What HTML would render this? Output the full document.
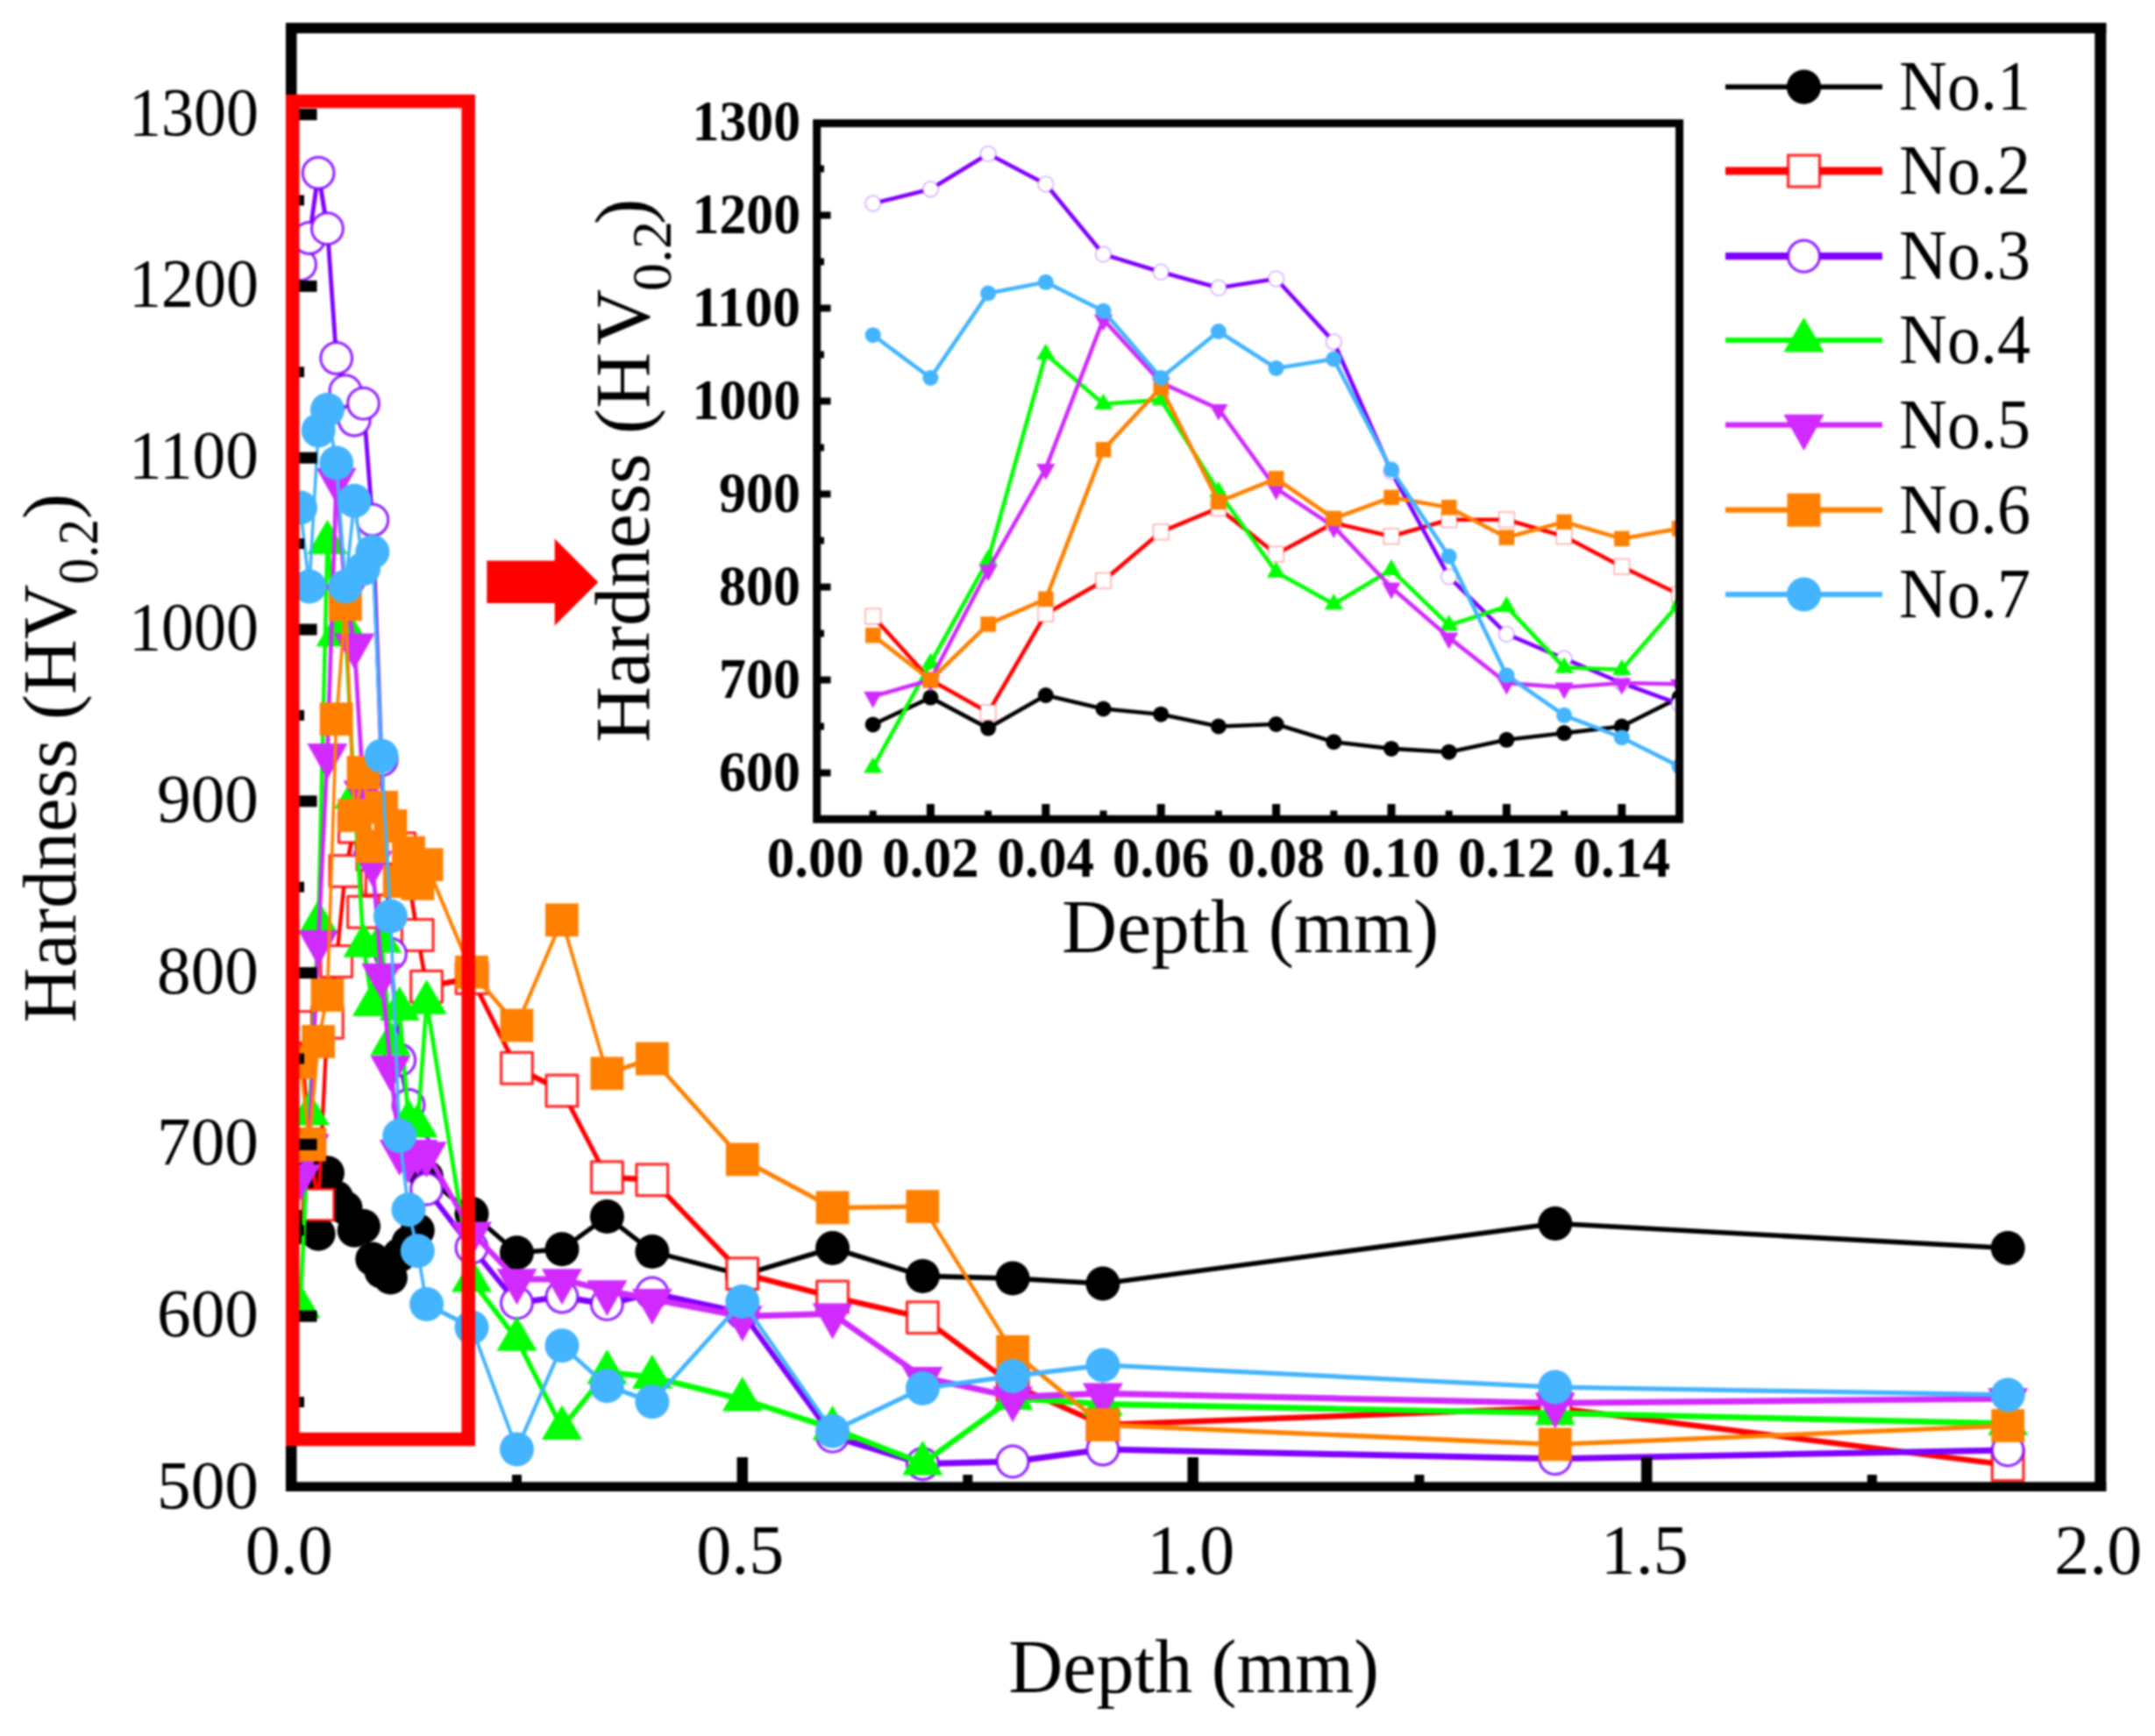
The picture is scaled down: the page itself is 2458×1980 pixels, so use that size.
<!DOCTYPE html>
<html lang="en"><head><meta charset="utf-8"><title>Hardness vs. depth</title>
<style>html,body{margin:0;padding:0;background:#fff}svg{display:block;filter:blur(0.9px)}text{font-family:"Liberation Serif","Times New Roman",Times,serif;fill:#000}.b{font-weight:bold}</style></head><body>
<svg width="2458" height="1980" viewBox="0 0 2458 1980">
<rect width="2458" height="1980" fill="#fff"/>
<defs><clipPath id="cm"><rect x="332.2" y="32" width="2063.5" height="1667.8"/></clipPath><clipPath id="ci"><rect x="931.7" y="140.6" width="983.9" height="793.7"/></clipPath></defs>
<g clip-path="url(#cm)" stroke-linejoin="round">
<g stroke="#000000" stroke-linecap="round">
<line x1="342.5" y1="1399.4" x2="352.8" y2="1342.6" stroke-width="4"/>
<line x1="352.8" y1="1342.6" x2="363.1" y2="1407.2" stroke-width="4"/>
<line x1="363.1" y1="1407.2" x2="373.4" y2="1337.7" stroke-width="4"/>
<line x1="373.4" y1="1337.7" x2="383.7" y2="1366.1" stroke-width="4.3"/>
<line x1="383.7" y1="1366.1" x2="394" y2="1377.8" stroke-width="5"/>
<line x1="394" y1="1377.8" x2="404.2" y2="1403.3" stroke-width="4.4"/>
<line x1="404.2" y1="1403.3" x2="414.5" y2="1398.6" stroke-width="5.4"/>
<line x1="414.5" y1="1398.6" x2="424.8" y2="1436" stroke-width="4.2"/>
<line x1="424.8" y1="1436" x2="435.1" y2="1450.3" stroke-width="4.8"/>
<line x1="435.1" y1="1450.3" x2="445.4" y2="1457.1" stroke-width="5.3"/>
<line x1="445.4" y1="1457.1" x2="455.7" y2="1431.5" stroke-width="4.4"/>
<line x1="455.7" y1="1431.5" x2="466" y2="1417.4" stroke-width="4.8"/>
<line x1="466" y1="1417.4" x2="476.3" y2="1403.3" stroke-width="4.8"/>
<line x1="476.3" y1="1403.3" x2="486.6" y2="1342.6" stroke-width="4"/>
<line x1="486.6" y1="1342.6" x2="538" y2="1384.3" stroke-width="5.2"/>
<line x1="538" y1="1384.3" x2="589.5" y2="1428.8" stroke-width="5.1"/>
<line x1="589.5" y1="1428.8" x2="641" y2="1424.8" stroke-width="5.6"/>
<line x1="641" y1="1424.8" x2="692.4" y2="1387.6" stroke-width="5.2"/>
<line x1="692.4" y1="1387.6" x2="743.9" y2="1427.6" stroke-width="5.2"/>
<line x1="743.9" y1="1427.6" x2="846.8" y2="1454.2" stroke-width="5.5"/>
<line x1="846.8" y1="1454.2" x2="949.6" y2="1423.5" stroke-width="5.5"/>
<line x1="949.6" y1="1423.5" x2="1052.4" y2="1455.4" stroke-width="5.5"/>
<line x1="1052.4" y1="1455.4" x2="1155.1" y2="1458.1" stroke-width="5.6"/>
<line x1="1155.1" y1="1458.1" x2="1257.9" y2="1464" stroke-width="5.6"/>
<line x1="1257.9" y1="1464" x2="1773.8" y2="1395.5" stroke-width="5.6"/>
<line x1="1773.8" y1="1395.5" x2="2290.2" y2="1423.5" stroke-width="5.6"/>
</g>
<circle cx="342.5" cy="1399.4" r="19.5" fill="#000000"/>
<circle cx="352.8" cy="1342.6" r="19.5" fill="#000000"/>
<circle cx="363.1" cy="1407.2" r="19.5" fill="#000000"/>
<circle cx="373.4" cy="1337.7" r="19.5" fill="#000000"/>
<circle cx="383.7" cy="1366.1" r="19.5" fill="#000000"/>
<circle cx="394" cy="1377.8" r="19.5" fill="#000000"/>
<circle cx="404.2" cy="1403.3" r="19.5" fill="#000000"/>
<circle cx="414.5" cy="1398.6" r="19.5" fill="#000000"/>
<circle cx="424.8" cy="1436" r="19.5" fill="#000000"/>
<circle cx="435.1" cy="1450.3" r="19.5" fill="#000000"/>
<circle cx="445.4" cy="1457.1" r="19.5" fill="#000000"/>
<circle cx="455.7" cy="1431.5" r="19.5" fill="#000000"/>
<circle cx="466" cy="1417.4" r="19.5" fill="#000000"/>
<circle cx="476.3" cy="1403.3" r="19.5" fill="#000000"/>
<circle cx="486.6" cy="1342.6" r="19.5" fill="#000000"/>
<circle cx="538" cy="1384.3" r="19.5" fill="#000000"/>
<circle cx="589.5" cy="1428.8" r="19.5" fill="#000000"/>
<circle cx="641" cy="1424.8" r="19.5" fill="#000000"/>
<circle cx="692.4" cy="1387.6" r="19.5" fill="#000000"/>
<circle cx="743.9" cy="1427.6" r="19.5" fill="#000000"/>
<circle cx="846.8" cy="1454.2" r="19.5" fill="#000000"/>
<circle cx="949.6" cy="1423.5" r="19.5" fill="#000000"/>
<circle cx="1052.4" cy="1455.4" r="19.5" fill="#000000"/>
<circle cx="1155.1" cy="1458.1" r="19.5" fill="#000000"/>
<circle cx="1257.9" cy="1464" r="19.5" fill="#000000"/>
<circle cx="1773.8" cy="1395.5" r="19.5" fill="#000000"/>
<circle cx="2290.2" cy="1423.5" r="19.5" fill="#000000"/>
<g stroke="#ff0000" stroke-linecap="round">
<line x1="342.5" y1="1171.5" x2="352.8" y2="1305.4" stroke-width="4.4"/>
<line x1="352.8" y1="1305.4" x2="363.1" y2="1373.9" stroke-width="4.5"/>
<line x1="363.1" y1="1373.9" x2="373.4" y2="1166.4" stroke-width="4.3"/>
<line x1="373.4" y1="1166.4" x2="383.7" y2="1096.5" stroke-width="4.5"/>
<line x1="383.7" y1="1096.5" x2="394" y2="993.5" stroke-width="4.4"/>
<line x1="394" y1="993.5" x2="404.2" y2="943.2" stroke-width="4.7"/>
<line x1="404.2" y1="943.2" x2="414.5" y2="1040.3" stroke-width="4.5"/>
<line x1="414.5" y1="1040.3" x2="424.8" y2="974.5" stroke-width="4.6"/>
<line x1="424.8" y1="974.5" x2="435.1" y2="1002.9" stroke-width="5"/>
<line x1="435.1" y1="1002.9" x2="445.4" y2="967.6" stroke-width="4.8"/>
<line x1="445.4" y1="967.6" x2="455.7" y2="967.6" stroke-width="6.4"/>
<line x1="455.7" y1="967.6" x2="466" y2="1002.9" stroke-width="4.8"/>
<line x1="466" y1="1002.9" x2="476.3" y2="1066.5" stroke-width="4.6"/>
<line x1="476.3" y1="1066.5" x2="486.6" y2="1125.3" stroke-width="4.6"/>
<line x1="486.6" y1="1125.3" x2="538" y2="1115.5" stroke-width="6.4"/>
<line x1="538" y1="1115.5" x2="589.5" y2="1218.3" stroke-width="5.2"/>
<line x1="589.5" y1="1218.3" x2="641" y2="1243.9" stroke-width="6.2"/>
<line x1="641" y1="1243.9" x2="692.4" y2="1342.6" stroke-width="5.2"/>
<line x1="692.4" y1="1342.6" x2="743.9" y2="1345.7" stroke-width="6.4"/>
<line x1="743.9" y1="1345.7" x2="846.8" y2="1452.6" stroke-width="5.7"/>
<line x1="846.8" y1="1452.6" x2="949.6" y2="1479.1" stroke-width="6.3"/>
<line x1="949.6" y1="1479.1" x2="1052.4" y2="1502.8" stroke-width="6.3"/>
<line x1="1052.4" y1="1502.8" x2="1155.1" y2="1579.5" stroke-width="6"/>
<line x1="1155.1" y1="1579.5" x2="1257.9" y2="1625.1" stroke-width="6.2"/>
<line x1="1257.9" y1="1625.1" x2="1773.8" y2="1605.8" stroke-width="6.4"/>
<line x1="1773.8" y1="1605.8" x2="2290.2" y2="1670.8" stroke-width="6.4"/>
</g>
<rect x="324.6" y="1153.6" width="35.7" height="35.7" fill="#fff" stroke="#ff0000" stroke-width="3.3" stroke-opacity="0.82"/>
<rect x="334.9" y="1287.6" width="35.7" height="35.7" fill="#fff" stroke="#ff0000" stroke-width="3.3" stroke-opacity="0.82"/>
<rect x="345.2" y="1356.1" width="35.7" height="35.7" fill="#fff" stroke="#ff0000" stroke-width="3.3" stroke-opacity="0.82"/>
<rect x="355.5" y="1148.5" width="35.7" height="35.7" fill="#fff" stroke="#ff0000" stroke-width="3.3" stroke-opacity="0.82"/>
<rect x="365.8" y="1078.6" width="35.7" height="35.7" fill="#fff" stroke="#ff0000" stroke-width="3.3" stroke-opacity="0.82"/>
<rect x="376.1" y="975.6" width="35.7" height="35.7" fill="#fff" stroke="#ff0000" stroke-width="3.3" stroke-opacity="0.82"/>
<rect x="386.4" y="925.3" width="35.7" height="35.7" fill="#fff" stroke="#ff0000" stroke-width="3.3" stroke-opacity="0.82"/>
<rect x="396.7" y="1022.4" width="35.7" height="35.7" fill="#fff" stroke="#ff0000" stroke-width="3.3" stroke-opacity="0.82"/>
<rect x="407" y="956.6" width="35.7" height="35.7" fill="#fff" stroke="#ff0000" stroke-width="3.3" stroke-opacity="0.82"/>
<rect x="417.3" y="985" width="35.7" height="35.7" fill="#fff" stroke="#ff0000" stroke-width="3.3" stroke-opacity="0.82"/>
<rect x="427.6" y="949.8" width="35.7" height="35.7" fill="#fff" stroke="#ff0000" stroke-width="3.3" stroke-opacity="0.82"/>
<rect x="437.9" y="949.8" width="35.7" height="35.7" fill="#fff" stroke="#ff0000" stroke-width="3.3" stroke-opacity="0.82"/>
<rect x="448.1" y="985" width="35.7" height="35.7" fill="#fff" stroke="#ff0000" stroke-width="3.3" stroke-opacity="0.82"/>
<rect x="458.4" y="1048.7" width="35.7" height="35.7" fill="#fff" stroke="#ff0000" stroke-width="3.3" stroke-opacity="0.82"/>
<rect x="468.7" y="1107.4" width="35.7" height="35.7" fill="#fff" stroke="#ff0000" stroke-width="3.3" stroke-opacity="0.82"/>
<rect x="520.2" y="1097.6" width="35.7" height="35.7" fill="#fff" stroke="#ff0000" stroke-width="3.3" stroke-opacity="0.82"/>
<rect x="571.6" y="1200.4" width="35.7" height="35.7" fill="#fff" stroke="#ff0000" stroke-width="3.3" stroke-opacity="0.82"/>
<rect x="623.1" y="1226.1" width="35.7" height="35.7" fill="#fff" stroke="#ff0000" stroke-width="3.3" stroke-opacity="0.82"/>
<rect x="674.6" y="1324.8" width="35.7" height="35.7" fill="#fff" stroke="#ff0000" stroke-width="3.3" stroke-opacity="0.82"/>
<rect x="726" y="1327.9" width="35.7" height="35.7" fill="#fff" stroke="#ff0000" stroke-width="3.3" stroke-opacity="0.82"/>
<rect x="828.9" y="1434.8" width="35.7" height="35.7" fill="#fff" stroke="#ff0000" stroke-width="3.3" stroke-opacity="0.82"/>
<rect x="931.7" y="1461.2" width="35.7" height="35.7" fill="#fff" stroke="#ff0000" stroke-width="3.3" stroke-opacity="0.82"/>
<rect x="1034.5" y="1484.9" width="35.7" height="35.7" fill="#fff" stroke="#ff0000" stroke-width="3.3" stroke-opacity="0.82"/>
<rect x="1137.3" y="1561.7" width="35.7" height="35.7" fill="#fff" stroke="#ff0000" stroke-width="3.3" stroke-opacity="0.82"/>
<rect x="1240.1" y="1607.3" width="35.7" height="35.7" fill="#fff" stroke="#ff0000" stroke-width="3.3" stroke-opacity="0.82"/>
<rect x="1756" y="1587.9" width="35.7" height="35.7" fill="#fff" stroke="#ff0000" stroke-width="3.3" stroke-opacity="0.82"/>
<rect x="2272.3" y="1652.9" width="35.7" height="35.7" fill="#fff" stroke="#ff0000" stroke-width="3.3" stroke-opacity="0.82"/>
<g stroke="#8000ff" stroke-linecap="round">
<line x1="342.5" y1="301.7" x2="352.8" y2="271.6" stroke-width="5.4"/>
<line x1="352.8" y1="271.6" x2="363.1" y2="197.2" stroke-width="4.9"/>
<line x1="363.1" y1="197.2" x2="373.4" y2="260.8" stroke-width="5"/>
<line x1="373.4" y1="260.8" x2="383.7" y2="408.6" stroke-width="4.8"/>
<line x1="383.7" y1="408.6" x2="394" y2="445.8" stroke-width="5.3"/>
<line x1="394" y1="445.8" x2="404.2" y2="479.1" stroke-width="5.3"/>
<line x1="404.2" y1="479.1" x2="414.5" y2="460.3" stroke-width="5.8"/>
<line x1="414.5" y1="460.3" x2="424.8" y2="593.1" stroke-width="4.8"/>
<line x1="424.8" y1="593.1" x2="435.1" y2="866.8" stroke-width="4.7"/>
<line x1="435.1" y1="866.8" x2="445.4" y2="1088.1" stroke-width="4.7"/>
<line x1="445.4" y1="1088.1" x2="455.7" y2="1208.9" stroke-width="4.8"/>
<line x1="455.7" y1="1208.9" x2="466" y2="1260.4" stroke-width="5.1"/>
<line x1="466" y1="1260.4" x2="476.3" y2="1311.9" stroke-width="5.1"/>
<line x1="476.3" y1="1311.9" x2="486.6" y2="1356.3" stroke-width="5.2"/>
<line x1="486.6" y1="1356.3" x2="538" y2="1422.9" stroke-width="6.1"/>
<line x1="538" y1="1422.9" x2="589.5" y2="1485.9" stroke-width="6.1"/>
<line x1="589.5" y1="1485.9" x2="641" y2="1479.1" stroke-width="7"/>
<line x1="641" y1="1479.1" x2="692.4" y2="1487.5" stroke-width="7"/>
<line x1="692.4" y1="1487.5" x2="743.9" y2="1475" stroke-width="6.9"/>
<line x1="743.9" y1="1475" x2="846.8" y2="1497.3" stroke-width="6.9"/>
<line x1="846.8" y1="1497.3" x2="949.6" y2="1638.3" stroke-width="6"/>
<line x1="949.6" y1="1638.3" x2="1052.4" y2="1669.6" stroke-width="6.9"/>
<line x1="1052.4" y1="1669.6" x2="1155.1" y2="1667" stroke-width="7"/>
<line x1="1155.1" y1="1667" x2="1257.9" y2="1653.1" stroke-width="7"/>
<line x1="1257.9" y1="1653.1" x2="1773.8" y2="1663.7" stroke-width="7"/>
<line x1="1773.8" y1="1663.7" x2="2290.2" y2="1653.9" stroke-width="7"/>
</g>
<circle cx="342.5" cy="301.7" r="17.9" fill="#fff" stroke="#8000ff" stroke-width="3.3" stroke-opacity="0.82"/>
<circle cx="352.8" cy="271.6" r="17.9" fill="#fff" stroke="#8000ff" stroke-width="3.3" stroke-opacity="0.82"/>
<circle cx="363.1" cy="197.2" r="17.9" fill="#fff" stroke="#8000ff" stroke-width="3.3" stroke-opacity="0.82"/>
<circle cx="373.4" cy="260.8" r="17.9" fill="#fff" stroke="#8000ff" stroke-width="3.3" stroke-opacity="0.82"/>
<circle cx="383.7" cy="408.6" r="17.9" fill="#fff" stroke="#8000ff" stroke-width="3.3" stroke-opacity="0.82"/>
<circle cx="394" cy="445.8" r="17.9" fill="#fff" stroke="#8000ff" stroke-width="3.3" stroke-opacity="0.82"/>
<circle cx="404.2" cy="479.1" r="17.9" fill="#fff" stroke="#8000ff" stroke-width="3.3" stroke-opacity="0.82"/>
<circle cx="414.5" cy="460.3" r="17.9" fill="#fff" stroke="#8000ff" stroke-width="3.3" stroke-opacity="0.82"/>
<circle cx="424.8" cy="593.1" r="17.9" fill="#fff" stroke="#8000ff" stroke-width="3.3" stroke-opacity="0.82"/>
<circle cx="435.1" cy="866.8" r="17.9" fill="#fff" stroke="#8000ff" stroke-width="3.3" stroke-opacity="0.82"/>
<circle cx="445.4" cy="1088.1" r="17.9" fill="#fff" stroke="#8000ff" stroke-width="3.3" stroke-opacity="0.82"/>
<circle cx="455.7" cy="1208.9" r="17.9" fill="#fff" stroke="#8000ff" stroke-width="3.3" stroke-opacity="0.82"/>
<circle cx="466" cy="1260.4" r="17.9" fill="#fff" stroke="#8000ff" stroke-width="3.3" stroke-opacity="0.82"/>
<circle cx="476.3" cy="1311.9" r="17.9" fill="#fff" stroke="#8000ff" stroke-width="3.3" stroke-opacity="0.82"/>
<circle cx="486.6" cy="1356.3" r="17.9" fill="#fff" stroke="#8000ff" stroke-width="3.3" stroke-opacity="0.82"/>
<circle cx="538" cy="1422.9" r="17.9" fill="#fff" stroke="#8000ff" stroke-width="3.3" stroke-opacity="0.82"/>
<circle cx="589.5" cy="1485.9" r="17.9" fill="#fff" stroke="#8000ff" stroke-width="3.3" stroke-opacity="0.82"/>
<circle cx="641" cy="1479.1" r="17.9" fill="#fff" stroke="#8000ff" stroke-width="3.3" stroke-opacity="0.82"/>
<circle cx="692.4" cy="1487.5" r="17.9" fill="#fff" stroke="#8000ff" stroke-width="3.3" stroke-opacity="0.82"/>
<circle cx="743.9" cy="1475" r="17.9" fill="#fff" stroke="#8000ff" stroke-width="3.3" stroke-opacity="0.82"/>
<circle cx="846.8" cy="1497.3" r="17.9" fill="#fff" stroke="#8000ff" stroke-width="3.3" stroke-opacity="0.82"/>
<circle cx="949.6" cy="1638.3" r="17.9" fill="#fff" stroke="#8000ff" stroke-width="3.3" stroke-opacity="0.82"/>
<circle cx="1052.4" cy="1669.6" r="17.9" fill="#fff" stroke="#8000ff" stroke-width="3.3" stroke-opacity="0.82"/>
<circle cx="1155.1" cy="1667" r="17.9" fill="#fff" stroke="#8000ff" stroke-width="3.3" stroke-opacity="0.82"/>
<circle cx="1257.9" cy="1653.1" r="17.9" fill="#fff" stroke="#8000ff" stroke-width="3.3" stroke-opacity="0.82"/>
<circle cx="1773.8" cy="1663.7" r="17.9" fill="#fff" stroke="#8000ff" stroke-width="3.3" stroke-opacity="0.82"/>
<circle cx="2290.2" cy="1653.9" r="17.9" fill="#fff" stroke="#8000ff" stroke-width="3.3" stroke-opacity="0.82"/>
<g stroke="#00ff00" stroke-linecap="round">
<line x1="342.5" y1="1490" x2="352.8" y2="1270.2" stroke-width="4.5"/>
<line x1="352.8" y1="1270.2" x2="363.1" y2="1052" stroke-width="4.5"/>
<line x1="363.1" y1="1052" x2="373.4" y2="618.7" stroke-width="4.4"/>
<line x1="373.4" y1="618.7" x2="383.7" y2="723.9" stroke-width="4.6"/>
<line x1="383.7" y1="723.9" x2="394" y2="715.3" stroke-width="6.1"/>
<line x1="394" y1="715.3" x2="404.2" y2="909.1" stroke-width="4.5"/>
<line x1="404.2" y1="909.1" x2="414.5" y2="1078.3" stroke-width="4.5"/>
<line x1="414.5" y1="1078.3" x2="424.8" y2="1145.6" stroke-width="4.7"/>
<line x1="424.8" y1="1145.6" x2="435.1" y2="1073" stroke-width="4.7"/>
<line x1="435.1" y1="1073" x2="445.4" y2="1190.1" stroke-width="4.6"/>
<line x1="445.4" y1="1190.1" x2="455.7" y2="1150.7" stroke-width="4.9"/>
<line x1="455.7" y1="1150.7" x2="466" y2="1279.2" stroke-width="4.5"/>
<line x1="466" y1="1279.2" x2="476.3" y2="1283.9" stroke-width="6.4"/>
<line x1="476.3" y1="1283.9" x2="486.6" y2="1143.3" stroke-width="4.5"/>
<line x1="486.6" y1="1143.3" x2="538" y2="1460.1" stroke-width="4.7"/>
<line x1="538" y1="1460.1" x2="589.5" y2="1527.4" stroke-width="5.7"/>
<line x1="589.5" y1="1527.4" x2="641" y2="1628.5" stroke-width="5.4"/>
<line x1="641" y1="1628.5" x2="692.4" y2="1565" stroke-width="5.8"/>
<line x1="692.4" y1="1565" x2="743.9" y2="1570.7" stroke-width="6.6"/>
<line x1="743.9" y1="1570.7" x2="846.8" y2="1596" stroke-width="6.5"/>
<line x1="846.8" y1="1596" x2="949.6" y2="1629.1" stroke-width="6.5"/>
<line x1="949.6" y1="1629.1" x2="1052.4" y2="1669" stroke-width="6.4"/>
<line x1="1052.4" y1="1669" x2="1155.1" y2="1594.6" stroke-width="6.2"/>
<line x1="1155.1" y1="1594.6" x2="1257.9" y2="1601.4" stroke-width="6.6"/>
<line x1="1257.9" y1="1601.4" x2="1773.8" y2="1611.8" stroke-width="6.6"/>
<line x1="1773.8" y1="1611.8" x2="2290.2" y2="1623.6" stroke-width="6.6"/>
</g>
<polygon points="342.5,1464 365.5,1503.4 319.5,1503.4" fill="#00ff00"/>
<polygon points="352.8,1244.2 375.8,1283.5 329.8,1283.5" fill="#00ff00"/>
<polygon points="363.1,1026 386.1,1065.4 340.1,1065.4" fill="#00ff00"/>
<polygon points="373.4,592.7 396.4,632.1 350.4,632.1" fill="#00ff00"/>
<polygon points="383.7,697.9 406.7,737.3 360.6,737.3" fill="#00ff00"/>
<polygon points="394,689.3 417,728.7 370.9,728.7" fill="#00ff00"/>
<polygon points="404.2,883.1 427.3,922.5 381.2,922.5" fill="#00ff00"/>
<polygon points="414.5,1052.3 437.5,1091.7 391.5,1091.7" fill="#00ff00"/>
<polygon points="424.8,1119.6 447.8,1159 401.8,1159" fill="#00ff00"/>
<polygon points="435.1,1047 458.1,1086.4 412.1,1086.4" fill="#00ff00"/>
<polygon points="445.4,1164.1 468.4,1203.5 422.4,1203.5" fill="#00ff00"/>
<polygon points="455.7,1124.7 478.7,1164.1 432.7,1164.1" fill="#00ff00"/>
<polygon points="466,1253.2 489,1292.6 443,1292.6" fill="#00ff00"/>
<polygon points="476.3,1257.9 499.3,1297.3 453.3,1297.3" fill="#00ff00"/>
<polygon points="486.6,1117.3 509.6,1156.7 463.6,1156.7" fill="#00ff00"/>
<polygon points="538,1434.1 561,1473.5 515,1473.5" fill="#00ff00"/>
<polygon points="589.5,1501.4 612.5,1540.8 566.5,1540.8" fill="#00ff00"/>
<polygon points="641,1602.5 664,1641.9 617.9,1641.9" fill="#00ff00"/>
<polygon points="692.4,1539 715.4,1578.4 669.4,1578.4" fill="#00ff00"/>
<polygon points="743.9,1544.7 766.9,1584.1 720.9,1584.1" fill="#00ff00"/>
<polygon points="846.8,1570 869.8,1609.4 823.8,1609.4" fill="#00ff00"/>
<polygon points="949.6,1603.1 972.6,1642.4 926.6,1642.4" fill="#00ff00"/>
<polygon points="1052.4,1643 1075.4,1682.4 1029.3,1682.4" fill="#00ff00"/>
<polygon points="1155.1,1568.6 1178.2,1608 1132.1,1608" fill="#00ff00"/>
<polygon points="1257.9,1575.5 1280.9,1614.8 1234.9,1614.8" fill="#00ff00"/>
<polygon points="1773.8,1585.8 1796.8,1625.2 1750.8,1625.2" fill="#00ff00"/>
<polygon points="2290.2,1597.6 2313.2,1637 2267.2,1637" fill="#00ff00"/>
<g stroke="#d02aff" stroke-linecap="round">
<line x1="342.5" y1="1340.1" x2="352.8" y2="1305.4" stroke-width="5.3"/>
<line x1="352.8" y1="1305.4" x2="363.1" y2="1073" stroke-width="4.7"/>
<line x1="363.1" y1="1073" x2="373.4" y2="860" stroke-width="4.7"/>
<line x1="373.4" y1="860" x2="383.7" y2="545.7" stroke-width="4.7"/>
<line x1="383.7" y1="545.7" x2="394" y2="678.8" stroke-width="4.8"/>
<line x1="394" y1="678.8" x2="404.2" y2="734.4" stroke-width="5.1"/>
<line x1="404.2" y1="734.4" x2="414.5" y2="902.1" stroke-width="4.8"/>
<line x1="414.5" y1="902.1" x2="424.8" y2="982.3" stroke-width="4.9"/>
<line x1="424.8" y1="982.3" x2="435.1" y2="1110.6" stroke-width="4.8"/>
<line x1="435.1" y1="1110.6" x2="445.4" y2="1215.9" stroke-width="4.9"/>
<line x1="445.4" y1="1215.9" x2="455.7" y2="1311.9" stroke-width="4.9"/>
<line x1="455.7" y1="1311.9" x2="466" y2="1321.1" stroke-width="6.4"/>
<line x1="466" y1="1321.1" x2="476.3" y2="1311.9" stroke-width="6.4"/>
<line x1="476.3" y1="1311.9" x2="486.6" y2="1314.2" stroke-width="6.9"/>
<line x1="486.6" y1="1314.2" x2="538" y2="1405.3" stroke-width="5.8"/>
<line x1="538" y1="1405.3" x2="589.5" y2="1459.1" stroke-width="6.3"/>
<line x1="589.5" y1="1459.1" x2="641" y2="1459.1" stroke-width="7"/>
<line x1="641" y1="1459.1" x2="692.4" y2="1472" stroke-width="6.9"/>
<line x1="692.4" y1="1472" x2="743.9" y2="1481.8" stroke-width="7"/>
<line x1="743.9" y1="1481.8" x2="846.8" y2="1501.2" stroke-width="7"/>
<line x1="846.8" y1="1501.2" x2="949.6" y2="1498.5" stroke-width="7"/>
<line x1="949.6" y1="1498.5" x2="1052.4" y2="1570.9" stroke-width="6.6"/>
<line x1="1052.4" y1="1570.9" x2="1155.1" y2="1593.2" stroke-width="6.9"/>
<line x1="1155.1" y1="1593.2" x2="1257.9" y2="1589.3" stroke-width="7"/>
<line x1="1257.9" y1="1589.3" x2="1773.8" y2="1600.3" stroke-width="7"/>
<line x1="1773.8" y1="1600.3" x2="2290.2" y2="1595.2" stroke-width="7"/>
</g>
<polygon points="342.5,1369.1 365.5,1328.2 319.5,1328.2" fill="#d02aff"/>
<polygon points="352.8,1334.5 375.8,1293.5 329.8,1293.5" fill="#d02aff"/>
<polygon points="363.1,1102.1 386.1,1061.1 340.1,1061.1" fill="#d02aff"/>
<polygon points="373.4,889 396.4,848.1 350.4,848.1" fill="#d02aff"/>
<polygon points="383.7,574.8 406.7,533.8 360.6,533.8" fill="#d02aff"/>
<polygon points="394,707.9 417,667 370.9,667" fill="#d02aff"/>
<polygon points="404.2,763.5 427.3,722.6 381.2,722.6" fill="#d02aff"/>
<polygon points="414.5,931.1 437.5,890.2 391.5,890.2" fill="#d02aff"/>
<polygon points="424.8,1011.4 447.8,970.5 401.8,970.5" fill="#d02aff"/>
<polygon points="435.1,1139.7 458.1,1098.7 412.1,1098.7" fill="#d02aff"/>
<polygon points="445.4,1245 468.4,1204 422.4,1204" fill="#d02aff"/>
<polygon points="455.7,1340.9 478.7,1300 432.7,1300" fill="#d02aff"/>
<polygon points="466,1350.1 489,1309.2 443,1309.2" fill="#d02aff"/>
<polygon points="476.3,1340.9 499.3,1300 453.3,1300" fill="#d02aff"/>
<polygon points="486.6,1343.3 509.6,1302.3 463.6,1302.3" fill="#d02aff"/>
<polygon points="538,1434.3 561,1393.4 515,1393.4" fill="#d02aff"/>
<polygon points="589.5,1488.2 612.5,1447.2 566.5,1447.2" fill="#d02aff"/>
<polygon points="641,1488.2 664,1447.2 617.9,1447.2" fill="#d02aff"/>
<polygon points="692.4,1501.1 715.4,1460.2 669.4,1460.2" fill="#d02aff"/>
<polygon points="743.9,1510.9 766.9,1469.9 720.9,1469.9" fill="#d02aff"/>
<polygon points="846.8,1530.3 869.8,1489.3 823.8,1489.3" fill="#d02aff"/>
<polygon points="949.6,1527.5 972.6,1486.6 926.6,1486.6" fill="#d02aff"/>
<polygon points="1052.4,1600 1075.4,1559 1029.3,1559" fill="#d02aff"/>
<polygon points="1155.1,1622.3 1178.2,1581.4 1132.1,1581.4" fill="#d02aff"/>
<polygon points="1257.9,1618.4 1280.9,1577.4 1234.9,1577.4" fill="#d02aff"/>
<polygon points="1773.8,1629.3 1796.8,1588.4 1750.8,1588.4" fill="#d02aff"/>
<polygon points="2290.2,1624.3 2313.2,1583.3 2267.2,1583.3" fill="#d02aff"/>
<g stroke="#ff8000" stroke-linecap="round">
<line x1="342.5" y1="1211.4" x2="352.8" y2="1305.4" stroke-width="3.7"/>
<line x1="352.8" y1="1305.4" x2="363.1" y2="1187.9" stroke-width="3.7"/>
<line x1="363.1" y1="1187.9" x2="373.4" y2="1135.1" stroke-width="3.8"/>
<line x1="373.4" y1="1135.1" x2="383.7" y2="820.2" stroke-width="3.6"/>
<line x1="383.7" y1="820.2" x2="394" y2="689.4" stroke-width="3.6"/>
<line x1="394" y1="689.4" x2="404.2" y2="930.2" stroke-width="3.6"/>
<line x1="404.2" y1="930.2" x2="414.5" y2="881.1" stroke-width="3.9"/>
<line x1="414.5" y1="881.1" x2="424.8" y2="965.3" stroke-width="3.7"/>
<line x1="424.8" y1="965.3" x2="435.1" y2="920.8" stroke-width="3.9"/>
<line x1="435.1" y1="920.8" x2="445.4" y2="942" stroke-width="4.3"/>
<line x1="445.4" y1="942" x2="455.7" y2="1005.2" stroke-width="3.8"/>
<line x1="455.7" y1="1005.2" x2="466" y2="972.5" stroke-width="4"/>
<line x1="466" y1="972.5" x2="476.3" y2="1007.8" stroke-width="4"/>
<line x1="476.3" y1="1007.8" x2="486.6" y2="986.2" stroke-width="4.3"/>
<line x1="486.6" y1="986.2" x2="538" y2="1108.8" stroke-width="4.2"/>
<line x1="538" y1="1108.8" x2="589.5" y2="1169.5" stroke-width="4.7"/>
<line x1="589.5" y1="1169.5" x2="641" y2="1049.3" stroke-width="4.2"/>
<line x1="641" y1="1049.3" x2="692.4" y2="1224.3" stroke-width="4"/>
<line x1="692.4" y1="1224.3" x2="743.9" y2="1207.5" stroke-width="5.2"/>
<line x1="743.9" y1="1207.5" x2="846.8" y2="1322.4" stroke-width="4.7"/>
<line x1="846.8" y1="1322.4" x2="949.6" y2="1377.5" stroke-width="5.1"/>
<line x1="949.6" y1="1377.5" x2="1052.4" y2="1376.1" stroke-width="5.3"/>
<line x1="1052.4" y1="1376.1" x2="1155.1" y2="1541.7" stroke-width="4.4"/>
<line x1="1155.1" y1="1541.7" x2="1257.9" y2="1625.1" stroke-width="4.9"/>
<line x1="1257.9" y1="1625.1" x2="1773.8" y2="1647.5" stroke-width="5.3"/>
<line x1="1773.8" y1="1647.5" x2="2290.2" y2="1626.1" stroke-width="5.3"/>
</g>
<rect x="323.6" y="1192.5" width="37.8" height="37.8" fill="#ff8000"/>
<rect x="333.9" y="1286.5" width="37.8" height="37.8" fill="#ff8000"/>
<rect x="344.2" y="1169" width="37.8" height="37.8" fill="#ff8000"/>
<rect x="354.5" y="1116.1" width="37.8" height="37.8" fill="#ff8000"/>
<rect x="364.7" y="801.3" width="37.8" height="37.8" fill="#ff8000"/>
<rect x="375" y="670.5" width="37.8" height="37.8" fill="#ff8000"/>
<rect x="385.3" y="911.3" width="37.8" height="37.8" fill="#ff8000"/>
<rect x="395.6" y="862.2" width="37.8" height="37.8" fill="#ff8000"/>
<rect x="405.9" y="946.4" width="37.8" height="37.8" fill="#ff8000"/>
<rect x="416.2" y="901.9" width="37.8" height="37.8" fill="#ff8000"/>
<rect x="426.5" y="923.1" width="37.8" height="37.8" fill="#ff8000"/>
<rect x="436.8" y="986.3" width="37.8" height="37.8" fill="#ff8000"/>
<rect x="447.1" y="953.6" width="37.8" height="37.8" fill="#ff8000"/>
<rect x="457.4" y="988.9" width="37.8" height="37.8" fill="#ff8000"/>
<rect x="467.7" y="967.3" width="37.8" height="37.8" fill="#ff8000"/>
<rect x="519.1" y="1089.9" width="37.8" height="37.8" fill="#ff8000"/>
<rect x="570.6" y="1150.6" width="37.8" height="37.8" fill="#ff8000"/>
<rect x="622" y="1030.4" width="37.8" height="37.8" fill="#ff8000"/>
<rect x="673.5" y="1205.4" width="37.8" height="37.8" fill="#ff8000"/>
<rect x="725" y="1188.6" width="37.8" height="37.8" fill="#ff8000"/>
<rect x="827.9" y="1303.5" width="37.8" height="37.8" fill="#ff8000"/>
<rect x="930.7" y="1358.5" width="37.8" height="37.8" fill="#ff8000"/>
<rect x="1033.4" y="1357.2" width="37.8" height="37.8" fill="#ff8000"/>
<rect x="1136.2" y="1522.8" width="37.8" height="37.8" fill="#ff8000"/>
<rect x="1239" y="1606.2" width="37.8" height="37.8" fill="#ff8000"/>
<rect x="1754.9" y="1628.5" width="37.8" height="37.8" fill="#ff8000"/>
<rect x="2271.3" y="1607.2" width="37.8" height="37.8" fill="#ff8000"/>
<g stroke="#43b4fd" stroke-linecap="round">
<line x1="342.5" y1="579" x2="352.8" y2="669" stroke-width="3.7"/>
<line x1="352.8" y1="669" x2="363.1" y2="490.9" stroke-width="3.6"/>
<line x1="363.1" y1="490.9" x2="373.4" y2="467.4" stroke-width="4.2"/>
<line x1="373.4" y1="467.4" x2="383.7" y2="528.1" stroke-width="3.8"/>
<line x1="383.7" y1="528.1" x2="394" y2="669" stroke-width="3.6"/>
<line x1="394" y1="669" x2="404.2" y2="571.2" stroke-width="3.7"/>
<line x1="404.2" y1="571.2" x2="414.5" y2="648.7" stroke-width="3.7"/>
<line x1="414.5" y1="648.7" x2="424.8" y2="629.5" stroke-width="4.3"/>
<line x1="424.8" y1="629.5" x2="435.1" y2="862.3" stroke-width="3.6"/>
<line x1="435.1" y1="862.3" x2="445.4" y2="1045" stroke-width="3.6"/>
<line x1="445.4" y1="1045" x2="455.7" y2="1295.6" stroke-width="3.6"/>
<line x1="455.7" y1="1295.6" x2="466" y2="1379.8" stroke-width="3.7"/>
<line x1="466" y1="1379.8" x2="476.3" y2="1426.8" stroke-width="3.9"/>
<line x1="476.3" y1="1426.8" x2="486.6" y2="1487.5" stroke-width="3.8"/>
<line x1="486.6" y1="1487.5" x2="538" y2="1513.9" stroke-width="5.1"/>
<line x1="538" y1="1513.9" x2="589.5" y2="1652.9" stroke-width="4.1"/>
<line x1="589.5" y1="1652.9" x2="641" y2="1534.7" stroke-width="4.2"/>
<line x1="641" y1="1534.7" x2="692.4" y2="1580.7" stroke-width="4.8"/>
<line x1="692.4" y1="1580.7" x2="743.9" y2="1598.7" stroke-width="5.2"/>
<line x1="743.9" y1="1598.7" x2="846.8" y2="1484.6" stroke-width="4.7"/>
<line x1="846.8" y1="1484.6" x2="949.6" y2="1632.2" stroke-width="4.5"/>
<line x1="949.6" y1="1632.2" x2="1052.4" y2="1583.4" stroke-width="5.1"/>
<line x1="1052.4" y1="1583.4" x2="1155.1" y2="1569.5" stroke-width="5.3"/>
<line x1="1155.1" y1="1569.5" x2="1257.9" y2="1557" stroke-width="5.3"/>
<line x1="1257.9" y1="1557" x2="1773.8" y2="1582.1" stroke-width="5.3"/>
<line x1="1773.8" y1="1582.1" x2="2290.2" y2="1590.9" stroke-width="5.3"/>
</g>
<circle cx="342.5" cy="579" r="19.5" fill="#43b4fd"/>
<circle cx="352.8" cy="669" r="19.5" fill="#43b4fd"/>
<circle cx="363.1" cy="490.9" r="19.5" fill="#43b4fd"/>
<circle cx="373.4" cy="467.4" r="19.5" fill="#43b4fd"/>
<circle cx="383.7" cy="528.1" r="19.5" fill="#43b4fd"/>
<circle cx="394" cy="669" r="19.5" fill="#43b4fd"/>
<circle cx="404.2" cy="571.2" r="19.5" fill="#43b4fd"/>
<circle cx="414.5" cy="648.7" r="19.5" fill="#43b4fd"/>
<circle cx="424.8" cy="629.5" r="19.5" fill="#43b4fd"/>
<circle cx="435.1" cy="862.3" r="19.5" fill="#43b4fd"/>
<circle cx="445.4" cy="1045" r="19.5" fill="#43b4fd"/>
<circle cx="455.7" cy="1295.6" r="19.5" fill="#43b4fd"/>
<circle cx="466" cy="1379.8" r="19.5" fill="#43b4fd"/>
<circle cx="476.3" cy="1426.8" r="19.5" fill="#43b4fd"/>
<circle cx="486.6" cy="1487.5" r="19.5" fill="#43b4fd"/>
<circle cx="538" cy="1513.9" r="19.5" fill="#43b4fd"/>
<circle cx="589.5" cy="1652.9" r="19.5" fill="#43b4fd"/>
<circle cx="641" cy="1534.7" r="19.5" fill="#43b4fd"/>
<circle cx="692.4" cy="1580.7" r="19.5" fill="#43b4fd"/>
<circle cx="743.9" cy="1598.7" r="19.5" fill="#43b4fd"/>
<circle cx="846.8" cy="1484.6" r="19.5" fill="#43b4fd"/>
<circle cx="949.6" cy="1632.2" r="19.5" fill="#43b4fd"/>
<circle cx="1052.4" cy="1583.4" r="19.5" fill="#43b4fd"/>
<circle cx="1155.1" cy="1569.5" r="19.5" fill="#43b4fd"/>
<circle cx="1257.9" cy="1557" r="19.5" fill="#43b4fd"/>
<circle cx="1773.8" cy="1582.1" r="19.5" fill="#43b4fd"/>
<circle cx="2290.2" cy="1590.9" r="19.5" fill="#43b4fd"/>
</g>
<g stroke="#000" fill="none">
<path d="M326 32H2402.3" stroke-width="12"/><path d="M326 1695.6H2402.3" stroke-width="10.6"/><path d="M332.2 26V1700.9" stroke-width="12.5"/><path d="M2395.8 26V1700.9" stroke-width="13"/>
<line x1="846.8" y1="1695.8" x2="846.8" y2="1662" stroke-width="12.5"/>
<line x1="1360.7" y1="1695.8" x2="1360.7" y2="1662" stroke-width="12.5"/>
<line x1="1878.2" y1="1695.8" x2="1878.2" y2="1662" stroke-width="12.5"/>
<line x1="589.5" y1="1695.8" x2="589.5" y2="1682" stroke-width="11"/>
<line x1="1103.8" y1="1695.8" x2="1103.8" y2="1682" stroke-width="11"/>
<line x1="1618.9" y1="1695.8" x2="1618.9" y2="1682" stroke-width="11"/>
<line x1="2135.3" y1="1695.8" x2="2135.3" y2="1682" stroke-width="11"/>
<line x1="332.2" y1="1501.2" x2="361.5" y2="1501.2" stroke-width="13"/>
<line x1="332.2" y1="1305.4" x2="361.5" y2="1305.4" stroke-width="13"/>
<line x1="332.2" y1="1109.6" x2="361.5" y2="1109.6" stroke-width="13"/>
<line x1="332.2" y1="913.8" x2="361.5" y2="913.8" stroke-width="13"/>
<line x1="332.2" y1="718" x2="361.5" y2="718" stroke-width="13"/>
<line x1="332.2" y1="522.2" x2="361.5" y2="522.2" stroke-width="13"/>
<line x1="332.2" y1="326.4" x2="361.5" y2="326.4" stroke-width="13"/>
<line x1="332.2" y1="130.6" x2="361.5" y2="130.6" stroke-width="13"/>
<line x1="332.2" y1="1599.1" x2="347" y2="1599.1" stroke-width="12"/>
<line x1="332.2" y1="1403.3" x2="347" y2="1403.3" stroke-width="12"/>
<line x1="332.2" y1="1207.5" x2="347" y2="1207.5" stroke-width="12"/>
<line x1="332.2" y1="1011.7" x2="347" y2="1011.7" stroke-width="12"/>
<line x1="332.2" y1="815.9" x2="347" y2="815.9" stroke-width="12"/>
<line x1="332.2" y1="620.1" x2="347" y2="620.1" stroke-width="12"/>
<line x1="332.2" y1="424.3" x2="347" y2="424.3" stroke-width="12"/>
<line x1="332.2" y1="228.5" x2="347" y2="228.5" stroke-width="12"/>
</g>
<g font-size="79" text-anchor="end">
<text x="295" y="1720" textLength="116" lengthAdjust="spacingAndGlyphs">500</text>
<text x="295" y="1524.2" textLength="116" lengthAdjust="spacingAndGlyphs">600</text>
<text x="295" y="1328.4" textLength="116" lengthAdjust="spacingAndGlyphs">700</text>
<text x="295" y="1132.6" textLength="116" lengthAdjust="spacingAndGlyphs">800</text>
<text x="295" y="936.8" textLength="116" lengthAdjust="spacingAndGlyphs">900</text>
<text x="295" y="741" textLength="148" lengthAdjust="spacingAndGlyphs">1000</text>
<text x="295" y="545.2" textLength="148" lengthAdjust="spacingAndGlyphs">1100</text>
<text x="295" y="349.4" textLength="148" lengthAdjust="spacingAndGlyphs">1200</text>
<text x="295" y="153.6" textLength="148" lengthAdjust="spacingAndGlyphs">1300</text>
</g>
<g font-size="80" text-anchor="middle">
<text x="329.7" y="1794.5">0.0</text>
<text x="844.3" y="1794.5">0.5</text>
<text x="1358.2" y="1794.5">1.0</text>
<text x="1875.7" y="1794.5">1.5</text>
<text x="2393.2" y="1794.5">2.0</text>
</g>
<text x="1361.5" y="1930" font-size="86" text-anchor="middle">Depth (mm)</text>
<text transform="translate(86 1166.5) rotate(-90)" font-size="87">Hardness (HV<tspan font-size="66" dy="25" textLength="74.5" lengthAdjust="spacingAndGlyphs">0.2</tspan><tspan dy="-25">)</tspan></text>
<rect x="333.8" y="115.5" width="200.4" height="1526.1" fill="none" stroke="#ff0000" stroke-width="15.5"/>
<polygon points="555.3,639.5 632.7,639.5 632.7,614.6 682.4,663.9 632.7,713.5 632.7,687.9 555.3,687.9" fill="#ff0000"/>
<rect x="931.7" y="140.6" width="983.9" height="793.7" fill="#fff"/>
<g clip-path="url(#ci)" stroke-linejoin="round">
<polyline points="995.7,826.4 1061.4,795.6 1127.1,830.6 1192.8,793 1258.5,808.4 1324.2,814.7 1389.9,828.5 1455.6,826 1521.3,846.2 1587,853.9 1652.7,857.7 1718.4,843.8 1784.1,836.1 1849.8,828.5 1915.5,795.6" fill="none" stroke="#000000" stroke-width="4.6"/>
<circle cx="995.7" cy="826.4" r="9" fill="#000000"/>
<circle cx="1061.4" cy="795.6" r="9" fill="#000000"/>
<circle cx="1127.1" cy="830.6" r="9" fill="#000000"/>
<circle cx="1192.8" cy="793" r="9" fill="#000000"/>
<circle cx="1258.5" cy="808.4" r="9" fill="#000000"/>
<circle cx="1324.2" cy="814.7" r="9" fill="#000000"/>
<circle cx="1389.9" cy="828.5" r="9" fill="#000000"/>
<circle cx="1455.6" cy="826" r="9" fill="#000000"/>
<circle cx="1521.3" cy="846.2" r="9" fill="#000000"/>
<circle cx="1587" cy="853.9" r="9" fill="#000000"/>
<circle cx="1652.7" cy="857.7" r="9" fill="#000000"/>
<circle cx="1718.4" cy="843.8" r="9" fill="#000000"/>
<circle cx="1784.1" cy="836.1" r="9" fill="#000000"/>
<circle cx="1849.8" cy="828.5" r="9" fill="#000000"/>
<circle cx="1915.5" cy="795.6" r="9" fill="#000000"/>
<polyline points="995.7,703 1061.4,775.5 1127.1,812.6 1192.8,700.2 1258.5,662.4 1324.2,606.6 1389.9,579.4 1455.6,632 1521.3,596.4 1587,611.7 1652.7,592.7 1718.4,592.7 1784.1,611.7 1849.8,646.2 1915.5,678" fill="none" stroke="#ff0000" stroke-width="4.6"/>
<rect x="987" y="694.2" width="17.5" height="17.5" fill="#fff" stroke="#ff0000" stroke-width="1.5" stroke-opacity="0.35"/>
<rect x="1052.7" y="766.8" width="17.5" height="17.5" fill="#fff" stroke="#ff0000" stroke-width="1.5" stroke-opacity="0.35"/>
<rect x="1118.3" y="803.9" width="17.5" height="17.5" fill="#fff" stroke="#ff0000" stroke-width="1.5" stroke-opacity="0.35"/>
<rect x="1184" y="691.5" width="17.5" height="17.5" fill="#fff" stroke="#ff0000" stroke-width="1.5" stroke-opacity="0.35"/>
<rect x="1249.8" y="653.6" width="17.5" height="17.5" fill="#fff" stroke="#ff0000" stroke-width="1.5" stroke-opacity="0.35"/>
<rect x="1315.5" y="597.9" width="17.5" height="17.5" fill="#fff" stroke="#ff0000" stroke-width="1.5" stroke-opacity="0.35"/>
<rect x="1381.2" y="570.7" width="17.5" height="17.5" fill="#fff" stroke="#ff0000" stroke-width="1.5" stroke-opacity="0.35"/>
<rect x="1446.8" y="623.2" width="17.5" height="17.5" fill="#fff" stroke="#ff0000" stroke-width="1.5" stroke-opacity="0.35"/>
<rect x="1512.5" y="587.6" width="17.5" height="17.5" fill="#fff" stroke="#ff0000" stroke-width="1.5" stroke-opacity="0.35"/>
<rect x="1578.2" y="603" width="17.5" height="17.5" fill="#fff" stroke="#ff0000" stroke-width="1.5" stroke-opacity="0.35"/>
<rect x="1644" y="583.9" width="17.5" height="17.5" fill="#fff" stroke="#ff0000" stroke-width="1.5" stroke-opacity="0.35"/>
<rect x="1709.7" y="583.9" width="17.5" height="17.5" fill="#fff" stroke="#ff0000" stroke-width="1.5" stroke-opacity="0.35"/>
<rect x="1775.3" y="603" width="17.5" height="17.5" fill="#fff" stroke="#ff0000" stroke-width="1.5" stroke-opacity="0.35"/>
<rect x="1841.1" y="637.4" width="17.5" height="17.5" fill="#fff" stroke="#ff0000" stroke-width="1.5" stroke-opacity="0.35"/>
<rect x="1906.8" y="669.2" width="17.5" height="17.5" fill="#fff" stroke="#ff0000" stroke-width="1.5" stroke-opacity="0.35"/>
<polyline points="995.7,232.1 1061.4,215.8 1127.1,175.5 1192.8,210 1258.5,290 1324.2,310.2 1389.9,328.2 1455.6,318 1521.3,389.9 1587,538.1 1652.7,657.8 1718.4,723.2 1784.1,751.1 1849.8,779 1915.5,803.1" fill="none" stroke="#8000ff" stroke-width="4.6"/>
<circle cx="995.7" cy="232.1" r="8.8" fill="#fff" stroke="#8000ff" stroke-width="1.5" stroke-opacity="0.35"/>
<circle cx="1061.4" cy="215.8" r="8.8" fill="#fff" stroke="#8000ff" stroke-width="1.5" stroke-opacity="0.35"/>
<circle cx="1127.1" cy="175.5" r="8.8" fill="#fff" stroke="#8000ff" stroke-width="1.5" stroke-opacity="0.35"/>
<circle cx="1192.8" cy="210" r="8.8" fill="#fff" stroke="#8000ff" stroke-width="1.5" stroke-opacity="0.35"/>
<circle cx="1258.5" cy="290" r="8.8" fill="#fff" stroke="#8000ff" stroke-width="1.5" stroke-opacity="0.35"/>
<circle cx="1324.2" cy="310.2" r="8.8" fill="#fff" stroke="#8000ff" stroke-width="1.5" stroke-opacity="0.35"/>
<circle cx="1389.9" cy="328.2" r="8.8" fill="#fff" stroke="#8000ff" stroke-width="1.5" stroke-opacity="0.35"/>
<circle cx="1455.6" cy="318" r="8.8" fill="#fff" stroke="#8000ff" stroke-width="1.5" stroke-opacity="0.35"/>
<circle cx="1521.3" cy="389.9" r="8.8" fill="#fff" stroke="#8000ff" stroke-width="1.5" stroke-opacity="0.35"/>
<circle cx="1587" cy="538.1" r="8.8" fill="#fff" stroke="#8000ff" stroke-width="1.5" stroke-opacity="0.35"/>
<circle cx="1652.7" cy="657.8" r="8.8" fill="#fff" stroke="#8000ff" stroke-width="1.5" stroke-opacity="0.35"/>
<circle cx="1718.4" cy="723.2" r="8.8" fill="#fff" stroke="#8000ff" stroke-width="1.5" stroke-opacity="0.35"/>
<circle cx="1784.1" cy="751.1" r="8.8" fill="#fff" stroke="#8000ff" stroke-width="1.5" stroke-opacity="0.35"/>
<circle cx="1849.8" cy="779" r="8.8" fill="#fff" stroke="#8000ff" stroke-width="1.5" stroke-opacity="0.35"/>
<circle cx="1915.5" cy="803.1" r="8.8" fill="#fff" stroke="#8000ff" stroke-width="1.5" stroke-opacity="0.35"/>
<polyline points="995.7,875.5 1061.4,756.4 1127.1,638.3 1192.8,403.8 1258.5,460.7 1324.2,456 1389.9,561 1455.6,652.5 1521.3,689 1587,649.7 1652.7,713.1 1718.4,691.8 1784.1,761.3 1849.8,763.8 1915.5,687.7" fill="none" stroke="#00ff00" stroke-width="4.6"/>
<polygon points="995.7,863.5 1006.3,881.6 985.1,881.6" fill="#00ff00"/>
<polygon points="1061.4,744.4 1072,762.6 1050.8,762.6" fill="#00ff00"/>
<polygon points="1127.1,626.3 1137.7,644.5 1116.5,644.5" fill="#00ff00"/>
<polygon points="1192.8,391.8 1203.4,409.9 1182.2,409.9" fill="#00ff00"/>
<polygon points="1258.5,448.7 1269.1,466.9 1247.9,466.9" fill="#00ff00"/>
<polygon points="1324.2,444 1334.8,462.2 1313.6,462.2" fill="#00ff00"/>
<polygon points="1389.9,549 1400.5,567.1 1379.3,567.1" fill="#00ff00"/>
<polygon points="1455.6,640.5 1466.2,658.7 1445,658.7" fill="#00ff00"/>
<polygon points="1521.3,677 1531.9,695.2 1510.7,695.2" fill="#00ff00"/>
<polygon points="1587,637.7 1597.6,655.9 1576.4,655.9" fill="#00ff00"/>
<polygon points="1652.7,701.1 1663.3,719.2 1642.1,719.2" fill="#00ff00"/>
<polygon points="1718.4,679.8 1729,697.9 1707.8,697.9" fill="#00ff00"/>
<polygon points="1784.1,749.3 1794.7,767.5 1773.5,767.5" fill="#00ff00"/>
<polygon points="1849.8,751.8 1860.4,770 1839.2,770" fill="#00ff00"/>
<polygon points="1915.5,675.7 1926.1,693.9 1904.9,693.9" fill="#00ff00"/>
<polyline points="995.7,794.3 1061.4,775.5 1127.1,649.7 1192.8,534.4 1258.5,364.2 1324.2,436.3 1389.9,466.4 1455.6,557.1 1521.3,600.6 1587,670 1652.7,727.1 1718.4,779 1784.1,784 1849.8,779 1915.5,780.3" fill="none" stroke="#d02aff" stroke-width="4.6"/>
<polygon points="995.7,807.7 1006.3,788.8 985.1,788.8" fill="#d02aff"/>
<polygon points="1061.4,788.9 1072,770 1050.8,770" fill="#d02aff"/>
<polygon points="1127.1,663.1 1137.7,644.2 1116.5,644.2" fill="#d02aff"/>
<polygon points="1192.8,547.8 1203.4,528.9 1182.2,528.9" fill="#d02aff"/>
<polygon points="1258.5,377.6 1269.1,358.7 1247.9,358.7" fill="#d02aff"/>
<polygon points="1324.2,449.7 1334.8,430.8 1313.6,430.8" fill="#d02aff"/>
<polygon points="1389.9,479.8 1400.5,460.9 1379.3,460.9" fill="#d02aff"/>
<polygon points="1455.6,570.6 1466.2,551.7 1445,551.7" fill="#d02aff"/>
<polygon points="1521.3,614 1531.9,595.1 1510.7,595.1" fill="#d02aff"/>
<polygon points="1587,683.4 1597.6,664.5 1576.4,664.5" fill="#d02aff"/>
<polygon points="1652.7,740.5 1663.3,721.6 1642.1,721.6" fill="#d02aff"/>
<polygon points="1718.4,792.4 1729,773.5 1707.8,773.5" fill="#d02aff"/>
<polygon points="1784.1,797.4 1794.7,778.5 1773.5,778.5" fill="#d02aff"/>
<polygon points="1849.8,792.4 1860.4,773.5 1839.2,773.5" fill="#d02aff"/>
<polygon points="1915.5,793.7 1926.1,774.8 1904.9,774.8" fill="#d02aff"/>
<polyline points="995.7,724.6 1061.4,775.5 1127.1,711.9 1192.8,683.3 1258.5,512.8 1324.2,442 1389.9,572.4 1455.6,545.8 1521.3,591.4 1587,567.3 1652.7,578.8 1718.4,613 1784.1,595.3 1849.8,614.4 1915.5,602.7" fill="none" stroke="#ff8000" stroke-width="4.6"/>
<rect x="987" y="715.9" width="17.5" height="17.5" fill="#ff8000"/>
<rect x="1052.7" y="766.8" width="17.5" height="17.5" fill="#ff8000"/>
<rect x="1118.4" y="703.2" width="17.5" height="17.5" fill="#ff8000"/>
<rect x="1184.1" y="674.5" width="17.5" height="17.5" fill="#ff8000"/>
<rect x="1249.8" y="504.1" width="17.5" height="17.5" fill="#ff8000"/>
<rect x="1315.5" y="433.3" width="17.5" height="17.5" fill="#ff8000"/>
<rect x="1381.2" y="563.7" width="17.5" height="17.5" fill="#ff8000"/>
<rect x="1446.9" y="537.1" width="17.5" height="17.5" fill="#ff8000"/>
<rect x="1512.6" y="582.6" width="17.5" height="17.5" fill="#ff8000"/>
<rect x="1578.3" y="558.6" width="17.5" height="17.5" fill="#ff8000"/>
<rect x="1644" y="570" width="17.5" height="17.5" fill="#ff8000"/>
<rect x="1709.7" y="604.3" width="17.5" height="17.5" fill="#ff8000"/>
<rect x="1775.4" y="586.6" width="17.5" height="17.5" fill="#ff8000"/>
<rect x="1841.1" y="605.6" width="17.5" height="17.5" fill="#ff8000"/>
<rect x="1906.8" y="594" width="17.5" height="17.5" fill="#ff8000"/>
<polyline points="995.7,382.2 1061.4,431 1127.1,334.5 1192.8,321.8 1258.5,354.7 1324.2,431 1389.9,378 1455.6,420 1521.3,409.6 1587,535.6 1652.7,634.5 1718.4,770.2 1784.1,815.8 1849.8,841.2 1915.5,874.1" fill="none" stroke="#43b4fd" stroke-width="4.6"/>
<circle cx="995.7" cy="382.2" r="9" fill="#43b4fd"/>
<circle cx="1061.4" cy="431" r="9" fill="#43b4fd"/>
<circle cx="1127.1" cy="334.5" r="9" fill="#43b4fd"/>
<circle cx="1192.8" cy="321.8" r="9" fill="#43b4fd"/>
<circle cx="1258.5" cy="354.7" r="9" fill="#43b4fd"/>
<circle cx="1324.2" cy="431" r="9" fill="#43b4fd"/>
<circle cx="1389.9" cy="378" r="9" fill="#43b4fd"/>
<circle cx="1455.6" cy="420" r="9" fill="#43b4fd"/>
<circle cx="1521.3" cy="409.6" r="9" fill="#43b4fd"/>
<circle cx="1587" cy="535.6" r="9" fill="#43b4fd"/>
<circle cx="1652.7" cy="634.5" r="9" fill="#43b4fd"/>
<circle cx="1718.4" cy="770.2" r="9" fill="#43b4fd"/>
<circle cx="1784.1" cy="815.8" r="9" fill="#43b4fd"/>
<circle cx="1849.8" cy="841.2" r="9" fill="#43b4fd"/>
<circle cx="1915.5" cy="874.1" r="9" fill="#43b4fd"/>
</g>
<g stroke="#000" fill="none">
<rect x="931.7" y="140.6" width="983.9" height="793.7" stroke-width="9"/>
<line x1="995.7" y1="934.3" x2="995.7" y2="924.5" stroke-width="8"/>
<line x1="1061.4" y1="934.3" x2="1061.4" y2="917" stroke-width="9"/>
<line x1="1127.1" y1="934.3" x2="1127.1" y2="924.5" stroke-width="8"/>
<line x1="1192.8" y1="934.3" x2="1192.8" y2="917" stroke-width="9"/>
<line x1="1258.5" y1="934.3" x2="1258.5" y2="924.5" stroke-width="8"/>
<line x1="1324.2" y1="934.3" x2="1324.2" y2="917" stroke-width="9"/>
<line x1="1389.9" y1="934.3" x2="1389.9" y2="924.5" stroke-width="8"/>
<line x1="1455.6" y1="934.3" x2="1455.6" y2="917" stroke-width="9"/>
<line x1="1521.3" y1="934.3" x2="1521.3" y2="924.5" stroke-width="8"/>
<line x1="1587" y1="934.3" x2="1587" y2="917" stroke-width="9"/>
<line x1="1652.7" y1="934.3" x2="1652.7" y2="924.5" stroke-width="8"/>
<line x1="1718.4" y1="934.3" x2="1718.4" y2="917" stroke-width="9"/>
<line x1="1784.1" y1="934.3" x2="1784.1" y2="924.5" stroke-width="8"/>
<line x1="1849.8" y1="934.3" x2="1849.8" y2="917" stroke-width="9"/>
<line x1="931.7" y1="881.5" x2="947.5" y2="881.5" stroke-width="8"/>
<line x1="931.7" y1="828.5" x2="940" y2="828.5" stroke-width="8"/>
<line x1="931.7" y1="775.5" x2="947.5" y2="775.5" stroke-width="8"/>
<line x1="931.7" y1="722.5" x2="940" y2="722.5" stroke-width="8"/>
<line x1="931.7" y1="669.5" x2="947.5" y2="669.5" stroke-width="8"/>
<line x1="931.7" y1="616.5" x2="940" y2="616.5" stroke-width="8"/>
<line x1="931.7" y1="563.5" x2="947.5" y2="563.5" stroke-width="8"/>
<line x1="931.7" y1="510.5" x2="940" y2="510.5" stroke-width="8"/>
<line x1="931.7" y1="457.5" x2="947.5" y2="457.5" stroke-width="8"/>
<line x1="931.7" y1="404.5" x2="940" y2="404.5" stroke-width="8"/>
<line x1="931.7" y1="351.5" x2="947.5" y2="351.5" stroke-width="8"/>
<line x1="931.7" y1="298.5" x2="940" y2="298.5" stroke-width="8"/>
<line x1="931.7" y1="245.5" x2="947.5" y2="245.5" stroke-width="8"/>
<line x1="931.7" y1="192.5" x2="940" y2="192.5" stroke-width="8"/>
</g>
<g class="b" font-size="65" text-anchor="end">
<text x="913" y="901.5" textLength="93" lengthAdjust="spacingAndGlyphs">600</text>
<text x="913" y="795.5" textLength="93" lengthAdjust="spacingAndGlyphs">700</text>
<text x="913" y="689.5" textLength="93" lengthAdjust="spacingAndGlyphs">800</text>
<text x="913" y="583.5" textLength="93" lengthAdjust="spacingAndGlyphs">900</text>
<text x="913" y="477.5" textLength="123.5" lengthAdjust="spacingAndGlyphs">1000</text>
<text x="913" y="371.5" textLength="123.5" lengthAdjust="spacingAndGlyphs">1100</text>
<text x="913" y="265.5" textLength="123.5" lengthAdjust="spacingAndGlyphs">1200</text>
<text x="913" y="159.5" textLength="123.5" lengthAdjust="spacingAndGlyphs">1300</text>
</g>
<g class="b" font-size="65" text-anchor="middle">
<text x="930" y="1000" textLength="110.5" lengthAdjust="spacingAndGlyphs">0.00</text>
<text x="1061.4" y="1000" textLength="110.5" lengthAdjust="spacingAndGlyphs">0.02</text>
<text x="1192.8" y="1000" textLength="110.5" lengthAdjust="spacingAndGlyphs">0.04</text>
<text x="1324.2" y="1000" textLength="110.5" lengthAdjust="spacingAndGlyphs">0.06</text>
<text x="1455.6" y="1000" textLength="110.5" lengthAdjust="spacingAndGlyphs">0.08</text>
<text x="1587" y="1000" textLength="110.5" lengthAdjust="spacingAndGlyphs">0.10</text>
<text x="1718.4" y="1000" textLength="110.5" lengthAdjust="spacingAndGlyphs">0.12</text>
<text x="1849.8" y="1000" textLength="110.5" lengthAdjust="spacingAndGlyphs">0.14</text>
</g>
<text x="1426" y="1085.5" font-size="87.5" text-anchor="middle">Depth (mm)</text>
<text transform="translate(739.5 846.7) rotate(-90)" font-size="88.5">Hardness (H<tspan dx="8">V</tspan><tspan font-size="64" dy="25" dx="-2">0.2</tspan><tspan dy="-25" dx="-4">)</tspan></text>
<line x1="1968" y1="99.2" x2="2147" y2="99.2" stroke="#000000" stroke-width="5.8"/>
<circle cx="2057.5" cy="99.2" r="19.6" fill="#000000"/>
<text x="2166" y="125.2" font-size="80" textLength="150" lengthAdjust="spacingAndGlyphs">No.1</text>
<line x1="1968" y1="195" x2="2147" y2="195" stroke="#ff0000" stroke-width="8.9"/>
<rect x="2039.6" y="177.1" width="35.9" height="35.9" fill="#fff" stroke="#ff0000" stroke-width="3.3" stroke-opacity="0.82"/>
<text x="2166" y="221" font-size="80" textLength="150" lengthAdjust="spacingAndGlyphs">No.2</text>
<line x1="1968" y1="292.2" x2="2147" y2="292.2" stroke="#8000ff" stroke-width="8.3"/>
<circle cx="2057.5" cy="292.2" r="18" fill="#fff" stroke="#8000ff" stroke-width="3.3" stroke-opacity="0.82"/>
<text x="2166" y="318.2" font-size="80" textLength="150" lengthAdjust="spacingAndGlyphs">No.3</text>
<line x1="1968" y1="388" x2="2147" y2="388" stroke="#00ff00" stroke-width="6.2"/>
<polygon points="2057.5,361.9 2080.6,401.5 2034.4,401.5" fill="#00ff00"/>
<text x="2166" y="414" font-size="80" textLength="150" lengthAdjust="spacingAndGlyphs">No.4</text>
<line x1="1968" y1="484.7" x2="2147" y2="484.7" stroke="#d02aff" stroke-width="6.2"/>
<polygon points="2057.5,513.9 2080.6,472.8 2034.4,472.8" fill="#d02aff"/>
<text x="2166" y="510.7" font-size="80" textLength="150" lengthAdjust="spacingAndGlyphs">No.5</text>
<line x1="1968" y1="581.7" x2="2147" y2="581.7" stroke="#ff8000" stroke-width="6.2"/>
<rect x="2038.5" y="562.7" width="38" height="38" fill="#ff8000"/>
<text x="2166" y="607.7" font-size="80" textLength="150" lengthAdjust="spacingAndGlyphs">No.6</text>
<line x1="1968" y1="678" x2="2147" y2="678" stroke="#43b4fd" stroke-width="6.2"/>
<circle cx="2057.5" cy="678" r="19.6" fill="#43b4fd"/>
<text x="2166" y="704" font-size="80" textLength="150" lengthAdjust="spacingAndGlyphs">No.7</text>
</svg></body></html>
